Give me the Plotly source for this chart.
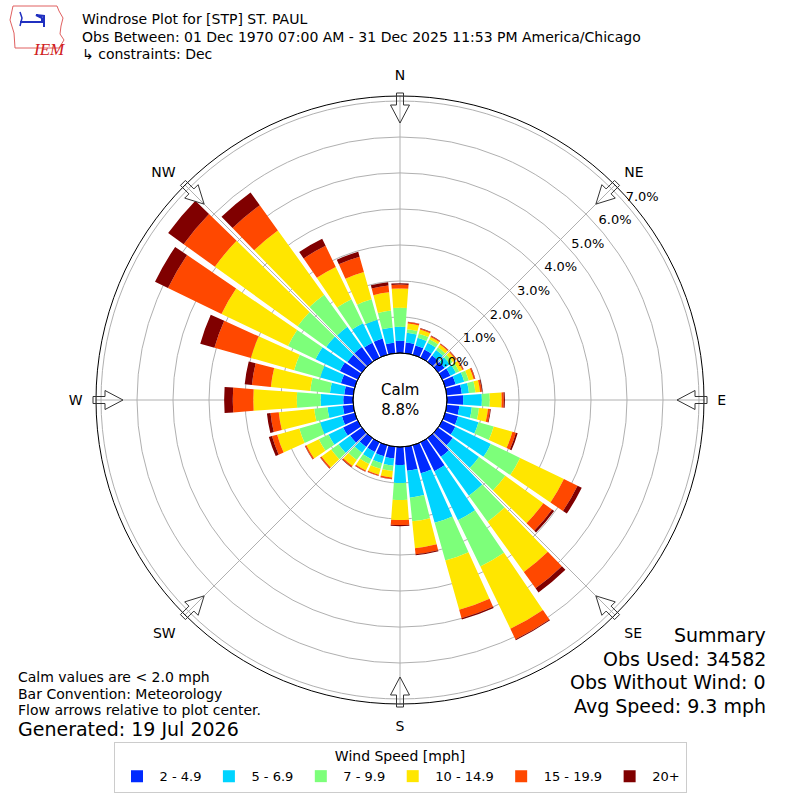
import math
import plotly.graph_objects as go

W, H = 800, 800

directions = list(range(0, 360, 10))
speed_bins = ["2 - 4.9", "5 - 6.9", "7 - 9.9", "10 - 14.9", "15 - 19.9", "20+"]
bin_colors = ["#002aff", "#00d4ff", "#7dff7a", "#ffe600", "#ff4800", "#800000"]

# percent of all obs, per 10 deg direction bin (0=N .. 350), one list per speed bin
pct_2_5 = [0.34, 0.30, 0.27, 0.25, 0.22, 0.22, 0.25, 0.30, 0.42, 0.45, 0.35, 0.37,
           0.40, 0.50, 0.64, 0.89, 0.81, 0.67, 0.50, 0.33, 0.32, 0.30, 0.30, 0.40,
           0.45, 0.37, 0.29, 0.27, 0.25, 0.40, 0.55, 0.50, 0.51, 0.46, 0.47, 0.29]
pct_5_7 = [0.39, 0.27, 0.22, 0.21, 0.19, 0.18, 0.17, 0.25, 0.20, 0.52, 0.35, 0.59,
           1.10, 0.90, 1.33, 1.51, 1.43, 0.75, 0.50, 0.20, 0.20, 0.22, 0.20, 0.40,
           0.45, 0.63, 0.43, 0.63, 0.40, 0.60, 0.75, 0.72, 0.69, 0.60, 0.54, 0.43]
pct_7_10 = [0.53, 0.10, 0.12, 0.11, 0.09, 0.10, 0.10, 0.13, 0.18, 0.22, 0.20, 0.44,
            0.90, 0.90, 0.89, 1.43, 1.09, 0.66, 0.47, 0.15, 0.16, 0.15, 0.25, 0.25,
            0.30, 0.60, 0.37, 0.66, 0.55, 0.75, 0.85, 0.98, 1.10, 0.74, 0.59, 0.47]
pct_10_15 = [0.53, 0.16, 0.12, 0.07, 0.09, 0.10, 0.10, 0.14, 0.13, 0.33, 0.25, 0.54,
             1.35, 1.30, 1.72, 1.92, 1.42, 0.75, 0.56, 0.18, 0.17, 0.20, 0.20, 0.33,
             0.38, 0.64, 0.99, 1.21, 1.10, 1.25, 2.05, 2.83, 2.20, 1.00, 0.79, 0.51]
pct_15_20 = [0.11, 0.04, 0.03, 0.03, 0.03, 0.03, 0.03, 0.04, 0.05, 0.06, 0.06, 0.10,
             0.42, 0.30, 0.56, 0.32, 0.24, 0.17, 0.14, 0.04, 0.03, 0.03, 0.04, 0.04,
             0.04, 0.15, 0.23, 0.57, 0.53, 1.05, 1.65, 1.07, 0.86, 0.65, 0.44, 0.19]
pct_20_up = [0.04, 0.01, 0.01, 0.01, 0.01, 0.01, 0.01, 0.01, 0.02, 0.03, 0.02, 0.05,
             0.13, 0.07, 0.14, 0.03, 0.04, 0.03, 0.03, 0.01, 0.01, 0.01, 0.01, 0.01,
             0.01, 0.09, 0.10, 0.24, 0.20, 0.41, 0.40, 0.53, 0.44, 0.22, 0.14, 0.09]
series = [pct_2_5, pct_5_7, pct_7_10, pct_10_15, pct_15_20, pct_20_up]

ring_vals = [0, 1, 2, 3, 4, 5, 6, 7]
ring_text = ["%.1f%%" % v for v in ring_vals]
compass = ["N", "NE", "E", "SE", "S", "SW", "W", "NW"]

title_lines = ["Windrose Plot for [STP] ST. PAUL",
               "Obs Between: 01 Dec 1970 07:00 AM - 31 Dec 2025 11:53 PM America/Chicago",
               "\u21b3 constraints: Dec"]
note_lines = ["Calm values are &lt; 2.0 mph", "Bar Convention: Meteorology",
              "Flow arrows relative to plot center."]
generated = "Generated: 19 Jul 2026"
summary_lines = ["Summary", "Obs Used: 34582", "Obs Without Wind: 0", "Avg Speed: 9.3 mph"]
calm_pct = 8.8

FONT = "DejaVu Sans"
CX, CY = 400, 400       # plot centre, px
R_OUT, R_HOLE = 304, 47  # px
PX_PER_PCT = 36.0
LABEL_BEARING = 49       # where the ring labels sit


def paper(x, y):
    return x / W, 1 - y / H


def poly_path(points):
    s = ""
    for i, (px_, py_) in enumerate(points):
        X, Y = paper(px_, py_)
        s += ("M" if i == 0 else "L") + "%.5f,%.5f " % (X, Y)
    return s


fig = go.Figure()
for name, vals, col in zip(speed_bins, series, bin_colors):
    fig.add_trace(go.Barpolar(r=vals, theta=directions, name=name, width=8.5,
                              marker=dict(color=col, line=dict(width=0))))

# ring labels, placed by the polar axis itself
fig.add_trace(go.Scatterpolar(r=ring_vals, theta=[LABEL_BEARING] * len(ring_vals),
                              text=ring_text, mode="text", textposition="top right",
                              textfont=dict(size=13, color="black"),
                              showlegend=False, hoverinfo="skip"))

fig.update_layout(
    width=W, height=H, paper_bgcolor="white",
    margin=dict(l=0, r=0, t=0, b=0),
    font=dict(family=FONT, size=13, color="black"),
    polar=dict(
        domain=dict(x=[(CX - R_OUT) / W, (CX + R_OUT) / W],
                    y=[(CY - R_OUT) / H, (CY + R_OUT) / H]),
        hole=R_HOLE / R_OUT, bgcolor="white", barmode="stack",
        radialaxis=dict(range=[0, (R_OUT - R_HOLE) / PX_PER_PCT], tickvals=ring_vals,
                        showticklabels=False, showline=False, ticks="",
                        gridcolor="#b0b0b0"),
        angularaxis=dict(direction="clockwise", rotation=90,
                         tickvals=list(range(0, 360, 45)), ticktext=compass,
                         showline=True, linecolor="black", linewidth=1,
                         gridcolor="#b0b0b0", ticks="outside", ticklen=10,
                         tickcolor="rgba(0,0,0,0)", tickfont=dict(size=14)),
    ),
    legend=dict(orientation="h", x=0.5, xanchor="center", y=1 - 742 / H, yanchor="top",
                title=dict(text="Wind Speed [mph]", side="top center", font=dict(size=14)),
                font=dict(size=13), bordercolor="#cccccc", borderwidth=1,
                itemwidth=35, traceorder="normal"),
)

# calm circle
x0, y0 = paper(CX - R_HOLE, CY + R_HOLE)
x1, y1 = paper(CX + R_HOLE, CY - R_HOLE)
fig.add_shape(type="circle", xref="paper", yref="paper", x0=x0, y0=y0, x1=x1, y1=y1,
              line=dict(color="black", width=1))
fig.add_annotation(text="Calm<br>%.1f%%" % calm_pct, x=0.5, y=0.5, xref="paper",
                   yref="paper", showarrow=False, font=dict(size=15))

# flow arrows pointing toward the centre
arrow_outline = [(277, 0), (295, 9.5), (295, 3.5), (307, 3.5), (307, -3.5),
                 (295, -3.5), (295, -9.5)]
for deg in range(0, 360, 45):
    a = math.radians(deg)
    ux, uy = math.sin(a), -math.cos(a)
    vx, vy = math.cos(a), math.sin(a)
    pts = [(CX + r * ux + w * vx, CY + r * uy + w * vy) for r, w in arrow_outline]
    fig.add_shape(type="path", path=poly_path(pts) + "Z", xref="paper", yref="paper",
                  line=dict(color="#333333", width=1), fillcolor="rgba(0,0,0,0)",
                  layer="above")

# header
for i, t in enumerate(title_lines):
    x, y = paper(80, 19 + i * 17.5)
    fig.add_annotation(text=t, x=x, y=y, xref="paper", yref="paper", xanchor="left",
                       yanchor="middle", showarrow=False, font=dict(size=14))

# IEM logo (rough)
logo = [(13, 6), (57, 6), (59, 11), (63, 18), (61, 26), (60, 34), (64, 40), (59, 48),
        (15, 48), (14, 33), (10, 20), (13, 6)]
fig.add_shape(type="path", path=poly_path(logo), xref="paper", yref="paper",
              line=dict(color="#e06060", width=1))
glyph = [(20, 22), (42, 22), (42, 18), (36, 15), (44, 16), (44, 27)]
fig.add_shape(type="path", path=poly_path(glyph), xref="paper", yref="paper",
              line=dict(color="#2030c0", width=2))
fig.add_shape(type="path", path=poly_path([(20, 12), (22, 18), (20, 26)]),
              xref="paper", yref="paper", line=dict(color="#2030c0", width=1.5))
x, y = paper(31, 38)
fig.add_annotation(text="<i>IEM</i>", x=x, y=y, xref="paper", yref="paper",
                   showarrow=False, font=dict(family="Liberation Serif", size=17,
                                              color="#d02020"))

# notes bottom left
for i, t in enumerate(note_lines):
    x, y = paper(16, 677 + i * 16.5)
    fig.add_annotation(text=t, x=x, y=y, xref="paper", yref="paper", xanchor="left",
                       yanchor="middle", showarrow=False, font=dict(size=14))
x, y = paper(16, 729)
fig.add_annotation(text=generated, x=x, y=y, xref="paper", yref="paper", xanchor="left",
                   yanchor="middle", showarrow=False, font=dict(size=19))

# summary bottom right
for i, t in enumerate(summary_lines):
    x, y = paper(768, 635 + i * 23.5)
    fig.add_annotation(text=t, x=x, y=y, xref="paper", yref="paper", xanchor="right",
                       yanchor="middle", showarrow=False, font=dict(size=19))

fig.write_html("out.html", config={"displayModeBar": False},
               post_script="document.body.style.margin='0';")
